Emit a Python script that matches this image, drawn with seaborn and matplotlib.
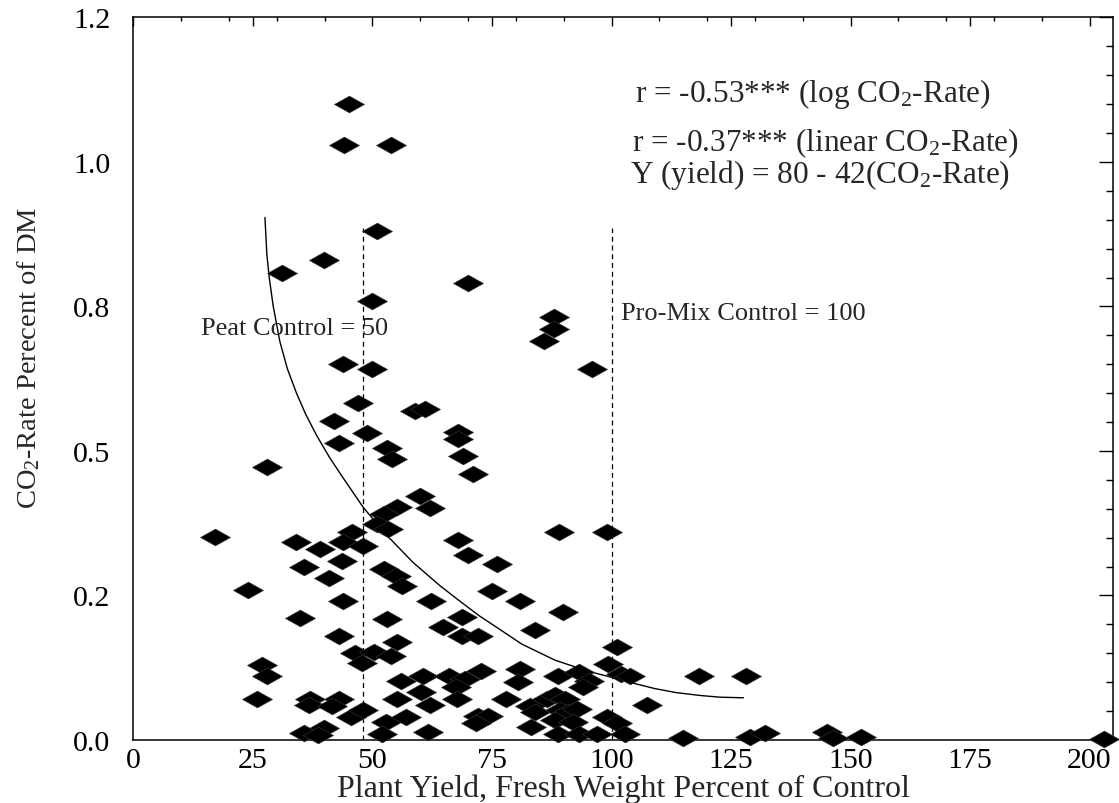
import matplotlib
matplotlib.use("Agg")
import matplotlib.pyplot as plt
import seaborn as sns
import pandas as pd
from matplotlib.path import Path
from matplotlib.ticker import MultipleLocator

# ---------------- data ----------------
plant_yield = [
    45.0, 44.0, 53.9, 50.9, 39.9, 31.0, 70.0, 50.0, 88.0, 88.0, 85.9, 43.9, 50.0, 96.0,
    47.0, 58.9, 61.0, 41.9, 67.9, 48.9, 67.9, 43.0, 53.0, 69.0, 54.0, 27.9, 71.1,
    59.9, 62.0, 55.1, 52.4, 50.9, 53.3, 45.8, 17.0, 33.9, 43.9, 48.1, 39.0, 67.9, 70.0,
    76.0, 89.1, 99.1, 43.7, 35.6, 52.5, 55.0, 56.1, 41.0, 24.0, 43.9, 62.2, 74.9, 80.9,
    89.9, 34.9, 53.0, 68.8,
    64.8, 84.0, 43.0, 55.1, 68.7, 72.1, 101.1, 46.4, 50.3, 53.8, 47.9, 26.9, 99.3, 27.9,
    56.0, 60.5, 65.9, 72.8, 69.3, 67.4, 80.9, 80.5, 88.9, 93.1, 95.3, 94.0, 101.9, 103.8,
    118.3, 128.1,
    60.1, 25.8, 36.9, 43.0, 55.1, 36.8, 41.5, 45.6, 48.0, 52.8, 57.0, 39.8, 35.7, 38.5,
    51.9, 61.6, 62.0, 67.6, 77.9, 83.0, 86.6, 88.2, 90.3, 84.0, 89.2, 91.0, 92.7, 107.5,
    72.0, 74.2, 71.6, 83.2, 88.2, 92.0, 99.1, 101.2, 88.9, 93.2, 97.0, 102.8, 115.0,
    129.0, 132.1, 145.0, 146.4, 152.1, 203.0,
]
co2_rate = [
    1.100, 1.030, 1.030, 0.880, 0.830, 0.808, 0.791, 0.760, 0.731, 0.711, 0.691, 0.650, 0.641, 0.641,
    0.583, 0.569, 0.572, 0.551, 0.533, 0.531, 0.520, 0.514, 0.505, 0.492, 0.486, 0.472, 0.460,
    0.422, 0.401, 0.403, 0.391, 0.373, 0.365, 0.359, 0.351, 0.342, 0.342, 0.336, 0.330, 0.346, 0.320,
    0.304, 0.360, 0.360, 0.310, 0.300, 0.296, 0.284, 0.266, 0.280, 0.260, 0.241, 0.241, 0.257, 0.241,
    0.221, 0.211, 0.209, 0.212,
    0.195, 0.191, 0.180, 0.170, 0.180, 0.180, 0.161, 0.151, 0.152, 0.146, 0.134, 0.130, 0.132, 0.110,
    0.102, 0.111, 0.111, 0.120, 0.105, 0.091, 0.122, 0.101, 0.111, 0.117, 0.102, 0.091, 0.114, 0.110,
    0.110, 0.110,
    0.083, 0.071, 0.071, 0.071, 0.071, 0.060, 0.059, 0.039, 0.051, 0.031, 0.039, 0.020, 0.012, 0.008,
    0.010, 0.014, 0.061, 0.071, 0.071, 0.059, 0.071, 0.077, 0.071, 0.048, 0.051, 0.048, 0.054, 0.061,
    0.042, 0.042, 0.030, 0.023, 0.034, 0.031, 0.040, 0.030, 0.011, 0.010, 0.010, 0.010, 0.003,
    0.005, 0.012, 0.013, 0.004, 0.005, 0.002,
]

# fitted curve, points
curve_yield = [27.5, 27.9, 28.4, 29.2, 30.6, 32.2, 34.1, 36.0, 38.3, 41.0, 43.8, 48.1, 53.0,
               58.5, 64.1, 68.3, 72.3, 76.5, 81.2, 88.2, 95.1, 99.7, 104.2, 109.0, 113.5,
               118.5, 122.7, 127.6]
curve_rate = [0.904, 0.840, 0.800, 0.752, 0.690, 0.642, 0.600, 0.564, 0.527, 0.489, 0.454, 0.402,
              0.354, 0.307, 0.267, 0.240, 0.215, 0.192, 0.166, 0.138, 0.119, 0.109, 0.099, 0.089,
              0.082, 0.077, 0.074, 0.073]

control_yield = [48, 100]
control_top = 0.885
control_labels = ["Peat Control = 50", "Pro-Mix Control = 100"]

stats_lines = [
    r"r = -0.53*** (log CO$_\mathrm{2}$-Rate)",
    r"r = -0.37*** (linear CO$_\mathrm{2}$-Rate)",
    r"Y (yield) = 80 - 42(CO$_\mathrm{2}$-Rate)",
]

x_ticks = [0, 25, 50, 75, 100, 125, 150, 175, 200]
y_ticks = [0.0, 0.25, 0.5, 0.75, 1.0, 1.25]
y_tick_labels = ["0.0", "0.2", "0.5", "0.8", "1.0", "1.2"]

x_label = "Plant Yield, Fresh Weight Percent of Control"
y_label = r"CO$_\mathrm{2}$-Rate Perecent of DM"

# ---------------- styling ----------------
sns.set_theme(style="white")
plt.rcParams["font.family"] = ["Liberation Serif", "DejaVu Serif"]
plt.rcParams["mathtext.fontset"] = "custom"
plt.rcParams["mathtext.rm"] = "Liberation Serif"
plt.rcParams["mathtext.it"] = "Liberation Serif:italic"
plt.rcParams["mathtext.bf"] = "Liberation Serif:bold"

fig = plt.figure(figsize=(11.19, 8.04), dpi=100)
ax = fig.add_axes([0.1193, 0.0784, 0.8757, 0.8986])

df = pd.DataFrame({"yield": plant_yield, "rate": co2_rate})

diamond = Path([(-1, 0), (0, 0.56), (1, 0), (0, -0.56), (-1, 0)],
               [Path.MOVETO, Path.LINETO, Path.LINETO, Path.LINETO, Path.CLOSEPOLY])

sns.scatterplot(data=df, x="yield", y="rate", marker=diamond, s=470, color="black",
                edgecolor="#3a3a3a", linewidth=0.4, clip_on=False, zorder=3, ax=ax)

sns.lineplot(x=curve_yield, y=curve_rate, sort=False, estimator=None, color="black",
             linewidth=1.0, ax=ax, zorder=2)

ax.vlines(control_yield, 0, control_top, colors="black", linewidth=0.9,
          linestyles=(0, (4, 3)), zorder=2)

ax.text(14.1, 0.702, control_labels[0], fontsize=19, va="baseline", ha="left", zorder=4)
ax.text(101.9, 0.728, control_labels[1], fontsize=19, va="baseline", ha="left", zorder=4)

ax.text(104.9, 1.106, stats_lines[0], fontsize=22.5, va="baseline", ha="left")
ax.text(104.2, 1.021, stats_lines[1], fontsize=22.5, va="baseline", ha="left")
ax.text(103.9, 0.965, stats_lines[2], fontsize=22.5, va="baseline", ha="left")

ax.set_xlim(0, 205)
ax.set_ylim(0, 1.25)
ax.set_xticks(x_ticks)
ax.xaxis.set_minor_locator(MultipleLocator(10))
ax.set_yticks(y_ticks, y_tick_labels)
ax.yaxis.set_minor_locator(MultipleLocator(0.05))

ax.tick_params(axis="both", which="both", direction="in", top=True, right=True,
               colors="black", width=1.0)
ax.tick_params(axis="x", which="major", length=6.5, pad=5.0, labelsize=21.5)
ax.tick_params(axis="x", which="minor", length=3)
ax.tick_params(axis="y", which="major", length=10, pad=16.5, labelsize=21.5)
ax.tick_params(axis="y", which="minor", length=5)

for sp in ax.spines.values():
    sp.set_color("black")
    sp.set_linewidth(1.1)
    sp.set_visible(True)

ax.set_xlabel(x_label, fontsize=23)
ax.xaxis.set_label_coords(0.5, -0.047)
ax.set_ylabel(y_label, fontsize=20.5)
ax.yaxis.set_label_coords(-0.0934, 0.530)

fig.savefig("out.png", dpi=100)
